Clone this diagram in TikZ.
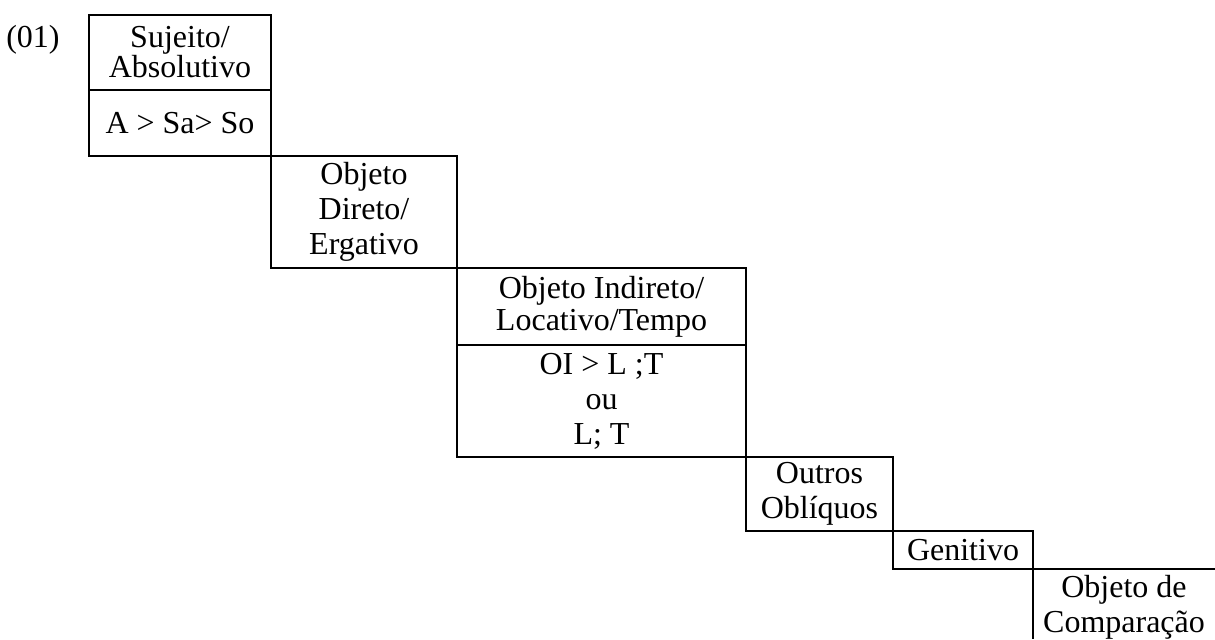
\documentclass[tikz,border=0pt]{standalone}
\usepackage{fontspec}
\setmainfont{Liberation Serif}
\begin{document}
\begin{tikzpicture}[x=0.5pt, y=-0.5pt,
        cell/.style={draw, line width=0.8pt, inner sep=0pt, outer sep=0pt, align=center,
            font=\fontsize{16}{17.5}\selectfont},
        label/.style={inner sep=0pt, align=center, font=\fontsize{16}{17.5}\selectfont}]

        \useasboundingbox (0,0) rectangle (1215,639);

        \node[label] (num) at (33,40) {(01)};

        \node[cell, minimum width=91pt, minimum height=37.5pt, font=\fontsize{16}{15}\selectfont] (suj) at (180,52.5) {Sujeito/\\Absolutivo};
        \node[cell, minimum width=91pt, minimum height=33pt] (sujord) at (180,123) {A > Sa> So};

        \node[cell, minimum width=93pt, minimum height=56pt] (od) at (364,212) {Objeto\\Direto/\\Ergativo};

        \node[cell, minimum width=144.5pt, minimum height=38.5pt, font=\fontsize{16}{16}\selectfont] (oi) at (601.5,306.5) {Objeto Indireto/\\Locativo/Tempo};
        \node[cell, minimum width=144.5pt, minimum height=56pt] (oiord) at (601.5,401) {OI > L ;T\\ou\\L; T};

        \node[cell, minimum width=73.5pt, minimum height=37pt] (obl) at (819.5,494) {Outros\\Oblíquos};

        \node[cell, minimum width=70pt, minimum height=19pt] (gen) at (963,550) {Genitivo};

        \node[label] (comp) at (1124,607) {Objeto de\\Comparação};

        \coordinate (compright) at (1215,569);
        \coordinate (compbottom) at (1033,639);
        \draw [line width=0.8pt] (compright) -- (gen.south east) -- (compbottom);

    \end{tikzpicture}
\end{document}
